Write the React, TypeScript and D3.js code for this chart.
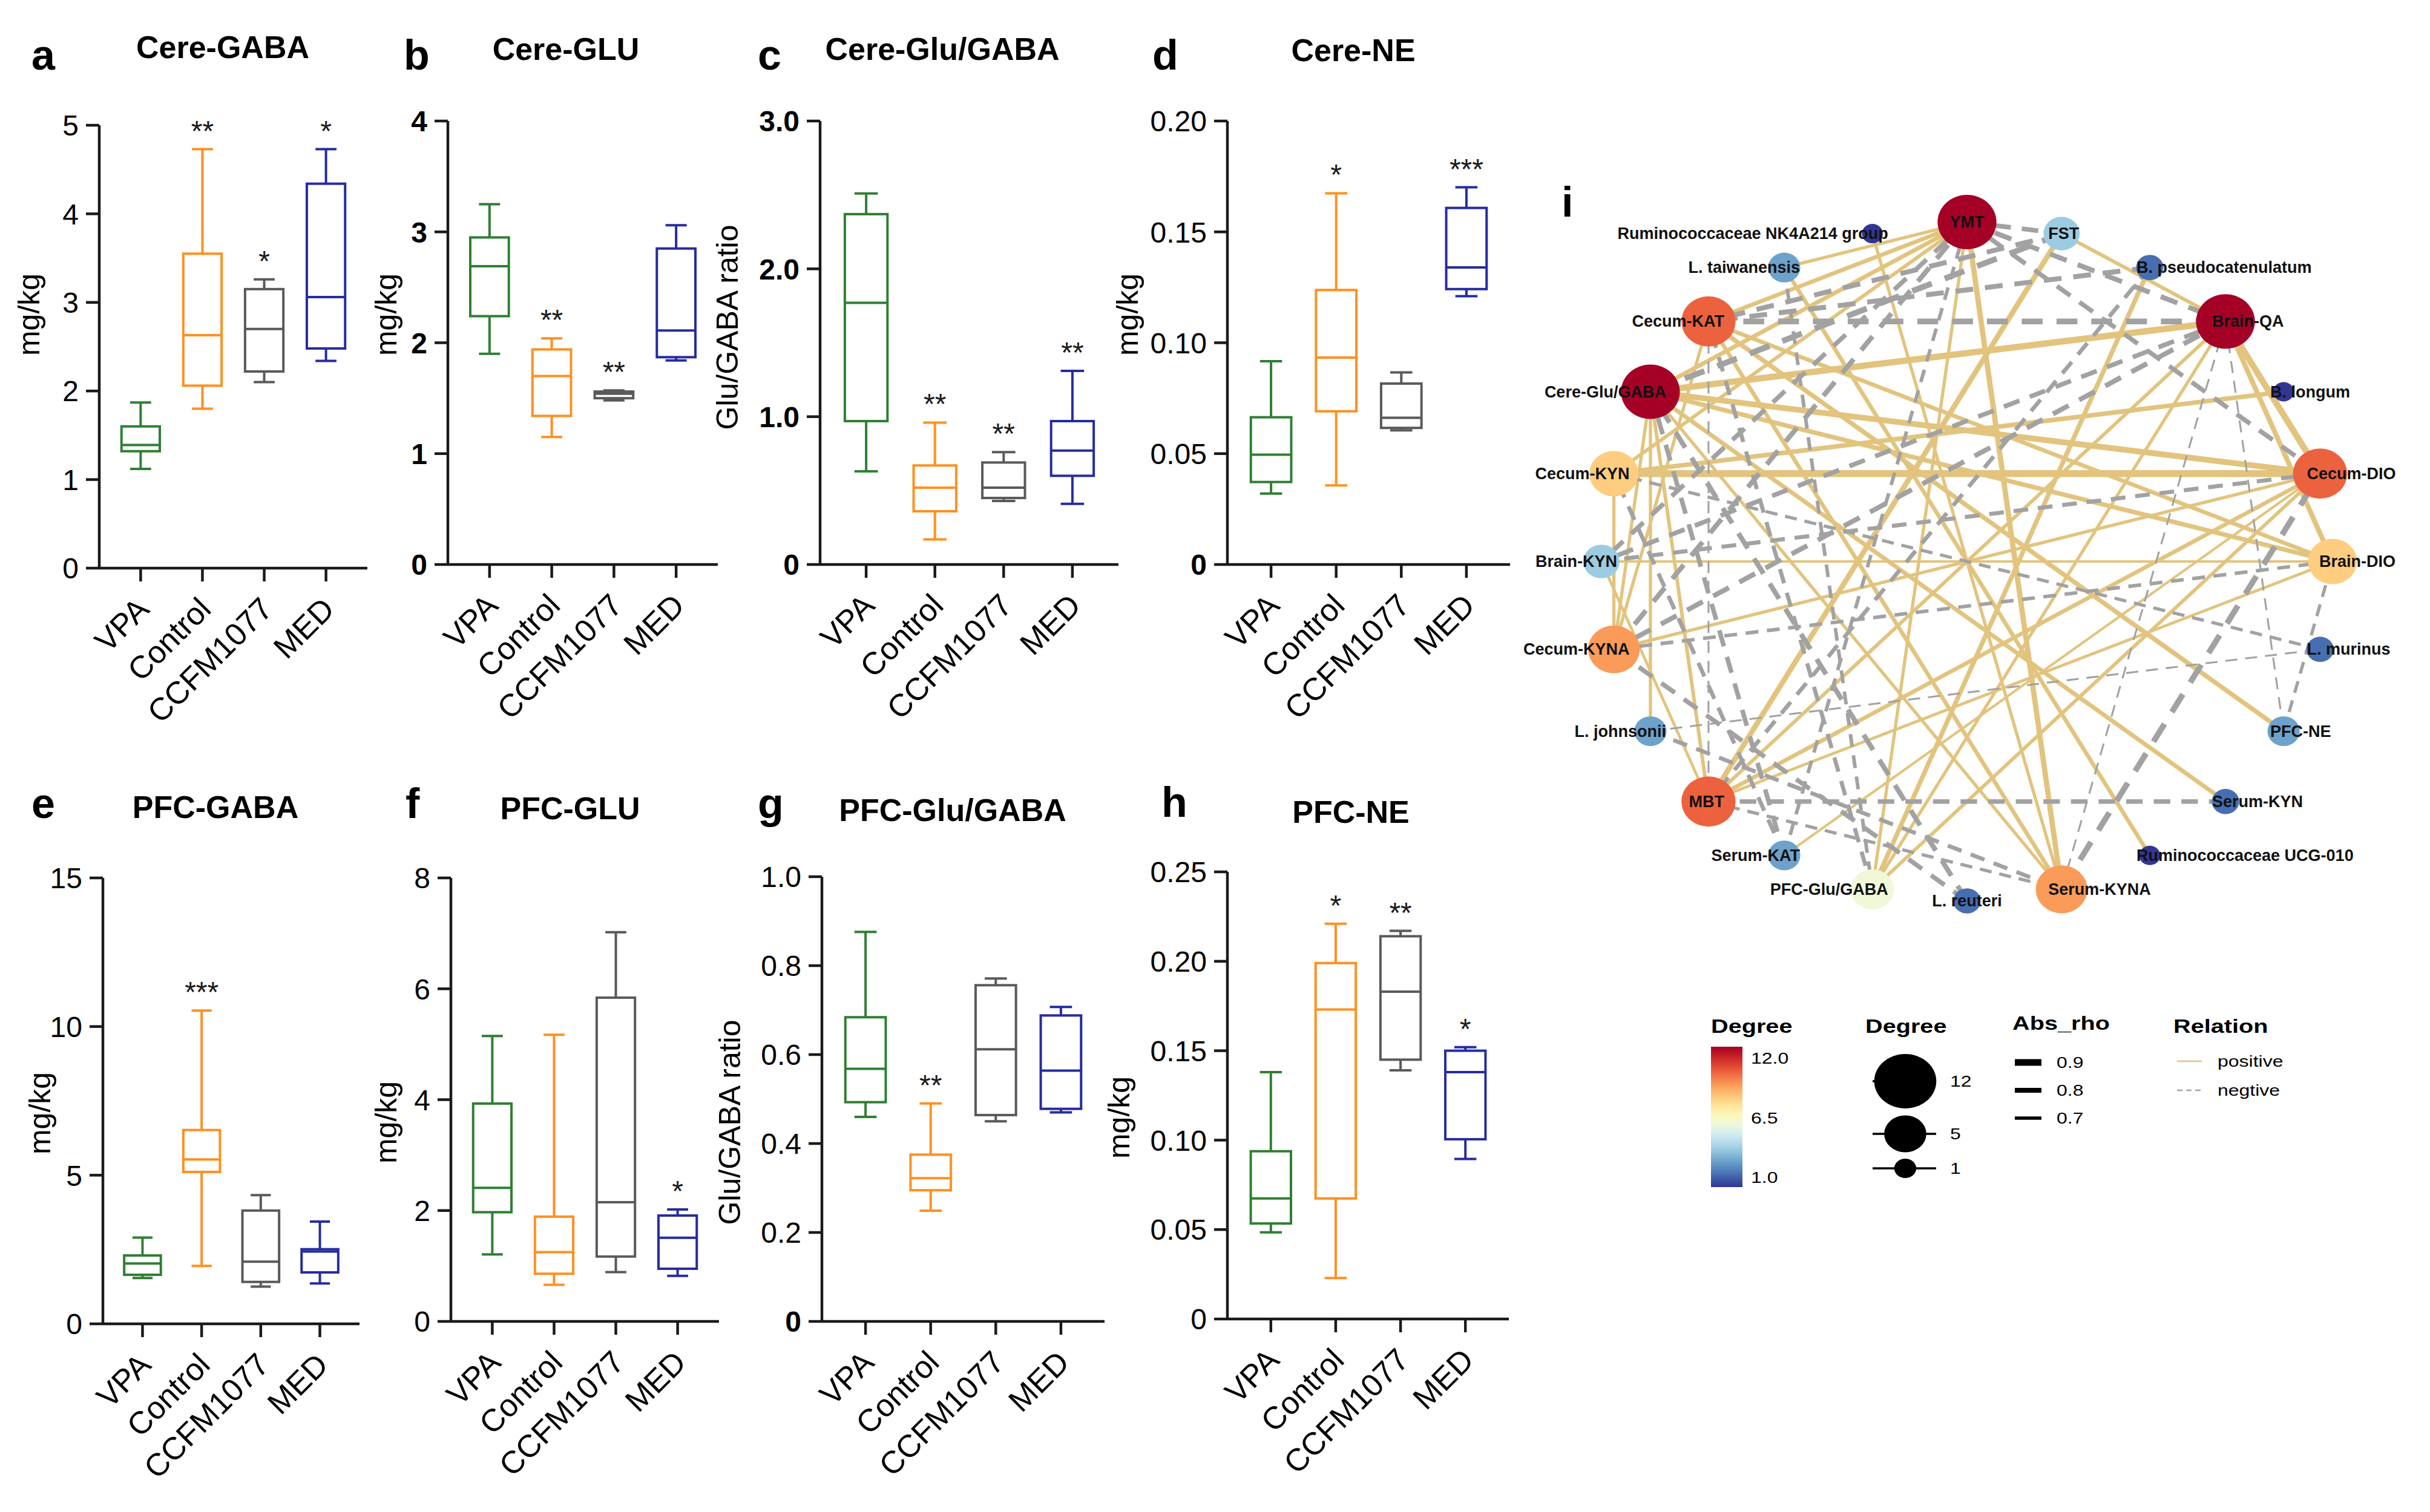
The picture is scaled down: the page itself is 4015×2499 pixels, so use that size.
import React from 'react';
import * as d3 from 'd3';

const W = 4015;
const H = 2499;

const groups = ['VPA', 'Control', 'CCFM1077', 'MED'];
const groupColors = ['#2f7f32', '#ff9020', '#5a5a5a', '#262ca0'];

// box stats per group: [min, q1, median, q3, max]
const cereGaba = [
  [1.12, 1.32, 1.39, 1.6, 1.87],
  [1.8, 2.06, 2.63, 3.55, 4.73],
  [2.1, 2.22, 2.7, 3.15, 3.26],
  [2.34, 2.48, 3.06, 4.34, 4.73],
];
const cereGabaSig = ['', '**', '*', '*'];

const cereGlu = [
  [1.9, 2.24, 2.69, 2.95, 3.25],
  [1.15, 1.34, 1.7, 1.94, 2.04],
  [1.48, 1.5, 1.54, 1.56, 1.57],
  [1.84, 1.87, 2.11, 2.85, 3.06],
];
const cereGluSig = ['', '**', '**', ''];

const cereRatio = [
  [0.63, 0.97, 1.77, 2.37, 2.51],
  [0.17, 0.36, 0.52, 0.67, 0.96],
  [0.43, 0.45, 0.52, 0.69, 0.76],
  [0.41, 0.6, 0.77, 0.97, 1.31],
];
const cereRatioSig = ['', '**', '**', '**'];

const cereNe = [
  [0.032, 0.0372, 0.0495, 0.0664, 0.0917],
  [0.0357, 0.0691, 0.0933, 0.1238, 0.1674],
  [0.0605, 0.0616, 0.0662, 0.0816, 0.0866],
  [0.121, 0.1242, 0.134, 0.1608, 0.1701],
];
const cereNeSig = ['', '*', '', '***'];

const pfcGaba = [
  [1.54, 1.65, 2.03, 2.3, 2.9],
  [1.95, 5.11, 5.53, 6.52, 10.54],
  [1.25, 1.41, 2.09, 3.81, 4.33],
  [1.36, 1.73, 2.43, 2.51, 3.44],
];
const pfcGabaSig = ['', '***', '', ''];

const pfcGlu = [
  [1.21, 1.97, 2.41, 3.93, 5.15],
  [0.66, 0.86, 1.25, 1.89, 5.17],
  [0.89, 1.17, 2.15, 5.84, 7.02],
  [0.82, 0.95, 1.51, 1.91, 2.02],
];
const pfcGluSig = ['', '', '', '*'];

const pfcRatio = [
  [0.46, 0.493, 0.568, 0.684, 0.876],
  [0.249, 0.295, 0.322, 0.375, 0.49],
  [0.45, 0.464, 0.612, 0.756, 0.771],
  [0.47, 0.478, 0.564, 0.688, 0.707],
];
const pfcRatioSig = ['', '**', '', ''];

const pfcNe = [
  [0.0485, 0.0534, 0.0674, 0.0938, 0.138],
  [0.0229, 0.0674, 0.173, 0.199, 0.221],
  [0.139, 0.145, 0.183, 0.214, 0.217],
  [0.0895, 0.1005, 0.138, 0.15, 0.152],
];
const pfcNeSig = ['', '*', '**', '*'];

// y ticks and their labels
const ticksA = [0, 1, 2, 3, 4, 5];
const ticksB = [0, 1, 2, 3, 4];
const ticksC = [0, 1, 2, 3];
const labelsC = ['0', '1.0', '2.0', '3.0'];
const ticksD = [0, 0.05, 0.1, 0.15, 0.2];
const labelsD = ['0', '0.05', '0.10', '0.15', '0.20'];
const ticksE = [0, 5, 10, 15];
const ticksF = [0, 2, 4, 6, 8];
const ticksG = [0, 0.2, 0.4, 0.6, 0.8, 1.0];
const labelsG = ['0', '0.2', '0.4', '0.6', '0.8', '1.0'];
const ticksH = [0, 0.05, 0.1, 0.15, 0.2, 0.25];
const labelsH = ['0', '0.05', '0.10', '0.15', '0.20', '0.25'];

// network
const nodeNames = [
  'YMT', 'FST', 'B. pseudocatenulatum', 'Brain-QA', 'B. longum', 'Cecum-DIO',
  'Brain-DIO', 'L. murinus', 'PFC-NE', 'Serum-KYN', 'Ruminococcaceae UCG-010', 'Serum-KYNA',
  'L. reuteri', 'PFC-Glu/GABA', 'Serum-KAT', 'MBT', 'L. johnsonii', 'Cecum-KYNA',
  'Brain-KYN', 'Cecum-KYN', 'Cere-Glu/GABA', 'Cecum-KAT', 'L. taiwanensis', 'Ruminococcaceae NK4A214 group',
];
const nodeDegree = [12, 4, 2, 12, 1, 10, 8, 2, 3, 2, 1, 9, 2, 6, 3, 10, 3, 9, 4, 8, 12, 10, 3, 1];

const positiveEdges: [string, string, number][] = [
  ['Cecum-KYN', 'Cecum-DIO', 0.92],
  ['Cere-Glu/GABA', 'Brain-QA', 0.88],
  ['Cere-Glu/GABA', 'Cecum-DIO', 0.85],
  ['Cere-Glu/GABA', 'Brain-DIO', 0.78],
  ['Cecum-KAT', 'YMT', 0.75],
  ['Cecum-KAT', 'Brain-DIO', 0.75],
  ['Cecum-KAT', 'PFC-NE', 0.78],
  ['YMT', 'Serum-KYNA', 0.82],
  ['YMT', 'Cere-Glu/GABA', 0.76],
  ['YMT', 'Cecum-KYN', 0.72],
  ['FST', 'MBT', 0.82],
  ['FST', 'Brain-QA', 0.72],
  ['B. pseudocatenulatum', 'PFC-Glu/GABA', 0.78],
  ['Brain-QA', 'Cecum-DIO', 0.88],
  ['Brain-QA', 'Brain-DIO', 0.8],
  ['Brain-QA', 'MBT', 0.72],
  ['Brain-QA', 'PFC-Glu/GABA', 0.7],
  ['Cecum-DIO', 'MBT', 0.75],
  ['Cecum-DIO', 'Cecum-KYNA', 0.7],
  ['Cecum-DIO', 'PFC-Glu/GABA', 0.72],
  ['Cecum-KYN', 'B. longum', 0.78],
  ['Cere-Glu/GABA', 'Serum-KYN', 0.76],
  ['L. taiwanensis', 'Ruminococcaceae UCG-010', 0.75],
  ['Ruminococcaceae NK4A214 group', 'Serum-KYNA', 0.7],
  ['Cere-Glu/GABA', 'MBT', 0.72],
  ['Cecum-KYNA', 'Cere-Glu/GABA', 0.7],
  ['Serum-KYNA', 'Cecum-KAT', 0.75],
  ['Serum-KYNA', 'Cere-Glu/GABA', 0.7],
  ['Brain-DIO', 'Brain-KYN', 0.66],
  ['Brain-DIO', 'MBT', 0.68],
  ['Serum-KAT', 'Cecum-DIO', 0.66],
  ['L. johnsonii', 'Cere-Glu/GABA', 0.7],
  ['L. taiwanensis', 'YMT', 0.7],
  ['PFC-Glu/GABA', 'YMT', 0.7],
  ['Cecum-KYNA', 'Cecum-KYN', 0.7],
  ['Cecum-KAT', 'Cecum-KYNA', 0.7],
  ['MBT', 'Brain-KYN', 0.68],
];

const negativeEdges: [string, string, number][] = [
  ['Cecum-KAT', 'Brain-QA', 0.85],
  ['YMT', 'Brain-QA', 0.8],
  ['YMT', 'Cecum-DIO', 0.78],
  ['YMT', 'FST', 0.78],
  ['FST', 'Cere-Glu/GABA', 0.85],
  ['FST', 'Cecum-KAT', 0.8],
  ['B. pseudocatenulatum', 'Cecum-KAT', 0.8],
  ['Brain-QA', 'Serum-KYNA', 0.62],
  ['Brain-QA', 'PFC-NE', 0.62],
  ['Brain-QA', 'Cecum-KYNA', 0.8],
  ['Brain-QA', 'Brain-KYN', 0.78],
  ['Brain-DIO', 'Cecum-KYNA', 0.72],
  ['L. johnsonii', 'L. murinus', 0.62],
  ['PFC-NE', 'Brain-DIO', 0.7],
  ['Serum-KYNA', 'Cecum-DIO', 0.85],
  ['Serum-KYN', 'MBT', 0.78],
  ['Cecum-KAT', 'MBT', 0.62],
  ['Cere-Glu/GABA', 'Serum-KAT', 0.78],
  ['PFC-Glu/GABA', 'Cecum-KAT', 0.75],
  ['MBT', 'Serum-KYNA', 0.7],
  ['L. johnsonii', 'Serum-KYNA', 0.75],
  ['L. reuteri', 'Cecum-KYNA', 0.78],
  ['L. reuteri', 'Cere-Glu/GABA', 0.8],
  ['YMT', 'Cecum-KYNA', 0.8],
  ['YMT', 'Brain-KYN', 0.78],
  ['Cecum-DIO', 'Brain-KYN', 0.75],
  ['Serum-KAT', 'Cecum-KYN', 0.75],
  ['L. murinus', 'Cecum-KYN', 0.7],
  ['L. taiwanensis', 'PFC-Glu/GABA', 0.72],
  ['Serum-KAT', 'YMT', 0.72],
  ['B. pseudocatenulatum', 'MBT', 0.75],
];

const colorBreaks = [12, 6.5, 1];
const colorBreakLabels = ['12.0', '6.5', '1.0'];
const sizeBreaks = [12, 5, 1];
const rhoBreaks = [0.9, 0.8, 0.7];
const relations = ['positive', 'negtive'];

interface Panel {
  letter: string;
  title: string;
  ylabel: string;
  stats: number[][];
  sig: string[];
  ticks: number[];
  tickLabels: string[];
  boldTicks: boolean[];
  yMax: number;
  axisX: number;
  xEnd: number;
  yTop: number;
  y0: number;
  letterPos: [number, number];
  titlePos: [number, number];
  ylabPos: [number, number];
}

const str = (a: number[]) => a.map(String);

const panels: Panel[] = [
  {
    letter: 'a', title: 'Cere-GABA', ylabel: 'mg/kg', stats: cereGaba, sig: cereGabaSig,
    ticks: ticksA, tickLabels: str(ticksA), boldTicks: ticksA.map(() => false), yMax: 5,
    axisX: 164, xEnd: 607, yTop: 207, y0: 939,
    letterPos: [52, 115], titlePos: [368, 96], ylabPos: [47, 520],
  },
  {
    letter: 'b', title: 'Cere-GLU', ylabel: 'mg/kg', stats: cereGlu, sig: cereGluSig,
    ticks: ticksB, tickLabels: str(ticksB), boldTicks: ticksB.map(() => true), yMax: 4,
    axisX: 740, xEnd: 1186, yTop: 200, y0: 933,
    letterPos: [667, 115], titlePos: [935, 99], ylabPos: [637, 520],
  },
  {
    letter: 'c', title: 'Cere-Glu/GABA', ylabel: 'Glu/GABA ratio', stats: cereRatio, sig: cereRatioSig,
    ticks: ticksC, tickLabels: labelsC, boldTicks: ticksC.map(() => true), yMax: 3,
    axisX: 1355, xEnd: 1848, yTop: 200, y0: 933,
    letterPos: [1252, 115], titlePos: [1557, 99], ylabPos: [1201, 541],
  },
  {
    letter: 'd', title: 'Cere-NE', ylabel: 'mg/kg', stats: cereNe, sig: cereNeSig,
    ticks: ticksD, tickLabels: labelsD, boldTicks: ticksD.map((t) => t === 0), yMax: 0.2,
    axisX: 2028, xEnd: 2495, yTop: 200, y0: 933,
    letterPos: [1904, 115], titlePos: [2236, 101], ylabPos: [1862, 520],
  },
  {
    letter: 'e', title: 'PFC-GABA', ylabel: 'mg/kg', stats: pfcGaba, sig: pfcGabaSig,
    ticks: ticksE, tickLabels: str(ticksE), boldTicks: ticksE.map(() => false), yMax: 15,
    axisX: 170, xEnd: 594, yTop: 1451, y0: 2188,
    letterPos: [52, 1352], titlePos: [356, 1352], ylabPos: [65, 1840],
  },
  {
    letter: 'f', title: 'PFC-GLU', ylabel: 'mg/kg', stats: pfcGlu, sig: pfcGluSig,
    ticks: ticksF, tickLabels: str(ticksF), boldTicks: ticksF.map(() => false), yMax: 8,
    axisX: 745, xEnd: 1188, yTop: 1451, y0: 2184,
    letterPos: [670, 1352], titlePos: [942, 1354], ylabPos: [637, 1855],
  },
  {
    letter: 'g', title: 'PFC-Glu/GABA', ylabel: 'Glu/GABA ratio', stats: pfcRatio, sig: pfcRatioSig,
    ticks: ticksG, tickLabels: labelsG, boldTicks: ticksG.map((t) => t === 0), yMax: 1,
    axisX: 1358, xEnd: 1825, yTop: 1449, y0: 2184,
    letterPos: [1252, 1352], titlePos: [1574, 1357], ylabPos: [1205, 1855],
  },
  {
    letter: 'h', title: 'PFC-NE', ylabel: 'mg/kg', stats: pfcNe, sig: pfcNeSig,
    ticks: ticksH, tickLabels: labelsH, boldTicks: ticksH.map(() => false), yMax: 0.25,
    axisX: 2028, xEnd: 2493, yTop: 1441, y0: 2180,
    letterPos: [1919, 1350], titlePos: [2232, 1360], ylabPos: [1848, 1847],
  },
];

const INK = '#1a1a1a';

function BoxPanel({ p }: { p: Panel }) {
  const y = d3.scaleLinear().domain([0, p.yMax]).range([p.y0, p.yTop]);
  const x = d3.scalePoint<string>().domain(groups).range([p.axisX, p.xEnd]).padding(0.67);
  const step = x.step();
  const bw = step * 0.62;
  const cw = step * 0.34;
  return (
    <g>
      <text x={p.letterPos[0]} y={p.letterPos[1]} fontSize={70} fontWeight="bold">{p.letter}</text>
      <text x={p.titlePos[0]} y={p.titlePos[1]} fontSize={52} fontWeight="bold" textAnchor="middle">
        {p.title}
      </text>
      <text
        transform={`translate(${p.ylabPos[0]},${p.ylabPos[1]}) rotate(-90)`}
        textAnchor="middle"
        dy="0.35em"
        fontSize={50}
      >
        {p.ylabel}
      </text>

      {/* axes */}
      <line x1={p.axisX} x2={p.axisX} y1={p.y0 + 2} y2={y(p.yMax)} stroke={INK} strokeWidth={4.5} />
      <line x1={p.axisX} x2={p.xEnd} y1={p.y0} y2={p.y0} stroke={INK} strokeWidth={4.5} />
      {p.ticks.map((t, i) => (
        <g key={t}>
          <line x1={p.axisX - 22} x2={p.axisX} y1={y(t)} y2={y(t)} stroke={INK} strokeWidth={4.5} />
          <text
            x={p.axisX - 34}
            y={y(t)}
            dy="0.36em"
            textAnchor="end"
            fontSize={48}
            fontWeight={p.boldTicks[i] ? 'bold' : 'normal'}
          >
            {p.tickLabels[i]}
          </text>
        </g>
      ))}
      {groups.map((g) => (
        <g key={g}>
          <line x1={x(g)} x2={x(g)} y1={p.y0} y2={p.y0 + 22} stroke={INK} strokeWidth={4.5} />
          <text
            transform={`translate(${x(g)! + 4},${p.y0 + 58}) rotate(-45)`}
            textAnchor="end"
            dy="0.35em"
            fontSize={52}
          >
            {g}
          </text>
        </g>
      ))}

      {/* boxes */}
      {p.stats.map((s, i) => {
        const cx = x(groups[i])!;
        const [mn, q1, md, q3, mx] = s;
        const c = groupColors[i];
        return (
          <g key={i} stroke={c} strokeWidth={4} fill="none">
            <line x1={cx} x2={cx} y1={y(q3)} y2={y(mx)} />
            <line x1={cx} x2={cx} y1={y(q1)} y2={y(mn)} />
            <line x1={cx - cw / 2} x2={cx + cw / 2} y1={y(mx)} y2={y(mx)} />
            <line x1={cx - cw / 2} x2={cx + cw / 2} y1={y(mn)} y2={y(mn)} />
            <rect x={cx - bw / 2} y={y(q3)} width={bw} height={y(q1) - y(q3)} fill="#fff" />
            <line x1={cx - bw / 2} x2={cx + bw / 2} y1={y(md)} y2={y(md)} />
          </g>
        );
      })}
      {p.sig.map((s, i) =>
        s ? (
          <text
            key={i}
            x={x(groups[i])}
            y={y(p.stats[i][4]) - 14}
            fontSize={48}
            textAnchor="middle"
            fill={INK}
          >
            {s}
          </text>
        ) : null,
      )}
    </g>
  );
}

const netCx = 3250;
const netCy = 928;
const netRx = 604;
const netRy = 561;
const stretch = 1.08;

const rScale = d3.scaleSqrt().domain([1, 12]).range([16, 45]);
const colorScale = d3.scaleSequential(d3.interpolateRdYlBu).domain([12, 1]);
const wScale = d3.scaleLinear().domain([0.6, 0.9]).range([2.5, 11]);
const POS = '#e2c47e';
const NEG = '#a2a2a2';

function dashFor(w: number) {
  return `${Math.max(20, w * 3.6)} ${Math.max(13, w * 2.4)}`;
}

function Network() {
  const angle = d3.scaleLinear().domain([0, nodeNames.length]).range([0, 2 * Math.PI]);
  const pos = new Map(
    nodeNames.map((n, i) => {
      const a = angle(i);
      return [n, { x: netCx + netRx * Math.sin(a), y: netCy - netRy * Math.cos(a), s: Math.sin(a) }];
    }),
  );
  const edges = [
    ...positiveEdges.map((e) => ({ e, neg: false })),
    ...negativeEdges.map((e) => ({ e, neg: true })),
  ];
  return (
    <g>
      <text x={2580} y={358} fontSize={70} fontWeight="bold">i</text>
      {edges.map(({ e, neg }, i) => {
        const a = pos.get(e[0])!;
        const b = pos.get(e[1])!;
        const w = wScale(e[2]);
        return (
          <line
            key={i}
            x1={a.x}
            y1={a.y}
            x2={b.x}
            y2={b.y}
            stroke={neg ? NEG : POS}
            strokeWidth={w}
            strokeDasharray={neg ? dashFor(w) : undefined}
          />
        );
      })}
      {nodeNames.map((n, i) => {
        const p = pos.get(n)!;
        const r = rScale(nodeDegree[i]);
        return <ellipse key={n} cx={p.x} cy={p.y} rx={r * stretch} ry={r} fill={colorScale(nodeDegree[i])} />;
      })}
      {nodeNames.map((n) => {
        const p = pos.get(n)!;
        let anchor = 'middle';
        let lx = p.x;
        if (p.s > 0.2) {
          anchor = 'start';
          lx = p.x - 22;
        } else if (p.s < -0.2) {
          anchor = 'end';
          lx = p.x + 26;
        }
        return (
          <text key={n} x={lx} y={p.y + 9} fontSize={27} fontWeight="bold" textAnchor={anchor} fill="#111">
            {n}
          </text>
        );
      })}
    </g>
  );
}

function LText({ x, y, size, bold, children }: any) {
  return (
    <text transform={`translate(${x},${y}) scale(1.28,1)`} fontSize={size} fontWeight={bold ? 'bold' : 'normal'}>
      {children}
    </text>
  );
}

function Legend() {
  const ly = d3.scaleLinear().domain([1, 12]).range([1946, 1749]);
  const barTop = 1730;
  const barBottom = 1962;
  const gradStops = d3.range(0, 1.0001, 0.05);
  const keyY = [1787, 1874, 1931];
  const rhoY = [1756, 1802, 1848];
  const relY = [1754, 1802];
  return (
    <g>
      <defs>
        <linearGradient id="degGrad" x1="0" y1="0" x2="0" y2="1">
          {gradStops.map((t) => (
            <stop key={t} offset={t} stopColor={colorScale(12 - t * 11)} />
          ))}
        </linearGradient>
      </defs>
      <LText x={2827} y={1707} size={31} bold>Degree</LText>
      <rect x={2827} y={barTop} width={52} height={barBottom - barTop} fill="url(#degGrad)" />
      {colorBreaks.map((b, i) => (
        <LText key={b} x={2893} y={ly(b) + 9} size={25}>{colorBreakLabels[i]}</LText>
      ))}

      <LText x={3082} y={1707} size={31} bold>Degree</LText>
      {sizeBreaks.map((b, i) => {
        const r = rScale(b);
        return (
          <g key={b}>
            <line x1={3094} x2={3199} y1={keyY[i]} y2={keyY[i]} stroke="#000" strokeWidth={3.5} />
            <ellipse cx={3148} cy={keyY[i]} rx={r * 1.14} ry={r} fill="#000" />
            <LText x={3222} y={keyY[i] + 9} size={25}>{String(b)}</LText>
          </g>
        );
      })}

      <LText x={3325} y={1702} size={31} bold>Abs_rho</LText>
      {rhoBreaks.map((b, i) => (
        <g key={b}>
          <line x1={3329} x2={3373} y1={rhoY[i]} y2={rhoY[i]} stroke="#000" strokeWidth={wScale(b)} />
          <LText x={3398} y={rhoY[i] + 9} size={25}>{String(b)}</LText>
        </g>
      ))}

      <LText x={3591} y={1707} size={31} bold>Relation</LText>
      {relations.map((r, i) => (
        <g key={r}>
          <line
            x1={3597}
            x2={3638}
            y1={relY[i]}
            y2={relY[i]}
            stroke={i === 0 ? POS : NEG}
            strokeWidth={2.5}
            strokeDasharray={i === 0 ? undefined : '9 6'}
          />
          <LText x={3664} y={relY[i] + 9} size={25}>{r}</LText>
        </g>
      ))}
    </g>
  );
}

export default function App() {
  return (
    <svg
      width={W}
      height={H}
      viewBox={`0 0 ${W} ${H}`}
      style={{ position: 'absolute', left: 0, top: 0, background: '#fff' }}
      fontFamily="'Liberation Sans', Arial, Helvetica, sans-serif"
    >
      <rect width={W} height={H} fill="#fff" />
      {panels.map((p) => (
        <BoxPanel key={p.letter} p={p} />
      ))}
      <Network />
      <Legend />
    </svg>
  );
}
